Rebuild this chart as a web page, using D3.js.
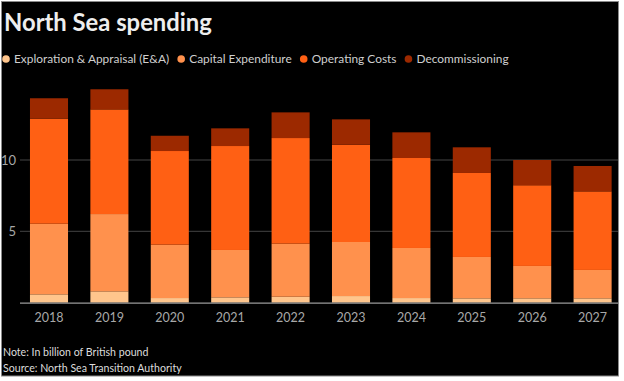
<!DOCTYPE html>
<html>
<head>
<meta charset="utf-8">
<script src="https://cdn.jsdelivr.net/npm/d3@7"></script>
<style>
  html, body { margin: 0; padding: 0; background: #fff; }
  svg { display: block; }
  text { font-family: Lato, "Noto Sans", sans-serif; }
</style>
</head>
<body>
<svg id="chart" width="624" height="381"></svg>
<script>
const years = ["2018","2019","2020","2021","2022","2023","2024","2025","2026","2027"];
const exploration = [0.58,0.79,0.32,0.37,0.41,0.46,0.32,0.30,0.30,0.30];
const capex       = [4.95,5.42,3.74,3.32,3.72,3.79,3.51,2.90,2.27,1.99];
const opex        = [7.37,7.34,6.57,7.29,7.41,6.82,6.31,5.89,5.66,5.51];
const decom       = [1.43,1.41,1.07,1.24,1.80,1.78,1.80,1.80,1.77,1.78];
const seriesNames = ["Exploration & Appraisal (E&A)","Capital Expenditure","Operating Costs","Decommissioning"];
const seriesColors = ["#ffc58c","#ff914d","#ff6014","#9c2900"];
const yTicks = [5,10];

const svg = d3.select("#chart");
svg.append("rect").attr("x",1.5).attr("y",1.5).attr("width",617).attr("height",374.5)
  .attr("fill","#000").attr("stroke","#8a8a8a").attr("stroke-width",1);

const x = d3.scaleBand().domain(years).range([18.8,622.8]).paddingInner(0.37).paddingOuter(0.185);
const y = d3.scaleLinear().domain([0,15]).range([302.6,88.7]);

// gridlines
svg.append("g").selectAll("line").data(yTicks).join("line")
  .attr("x1",20).attr("x2",618).attr("y1",d=>y(d)).attr("y2",d=>y(d))
  .attr("stroke","#444").attr("stroke-width",1);
svg.append("g").selectAll("text").data(yTicks).join("text")
  .attr("x",16).attr("y",d=>y(d)).attr("dy","0.35em").attr("text-anchor","end")
  .attr("fill","#a8a8a8").attr("font-size",13).text(d=>d);

// stacked bars
const table = years.map((yr,i)=>({year:yr, s0:exploration[i], s1:capex[i], s2:opex[i], s3:decom[i]}));
const stack = d3.stack().keys(["s0","s1","s2","s3"])(table);
svg.append("g").selectAll("g").data(stack).join("g")
  .attr("fill",(d,i)=>seriesColors[i])
  .selectAll("rect").data(d=>d).join("rect")
  .attr("x",d=>x(d.data.year)).attr("width",x.bandwidth())
  .attr("y",d=>y(d[1])).attr("height",d=>y(d[0])-y(d[1]));

// baseline
svg.append("line").attr("x1",20).attr("x2",618).attr("y1",y(0)+0.5).attr("y2",y(0)+0.5)
  .attr("stroke","#9a9a9a").attr("stroke-width",1.2);

// x labels
svg.append("g").selectAll("text").data(years).join("text")
  .attr("x",d=>x(d)+x.bandwidth()/2).attr("y",318).attr("dy","0.35em")
  .attr("text-anchor","middle").attr("fill","#a8a8a8").attr("font-size",12.5).text(d=>d);

// title
svg.append("text").attr("x",4).attr("y",31).attr("fill","#eeeeee")
  .attr("font-size",23.8).attr("font-weight",700).text("North Sea spending");

// legend
let lx = 6;
seriesNames.forEach((name,i)=>{
  svg.append("circle").attr("cx",lx).attr("cy",59).attr("r",3.8).attr("fill",seriesColors[i]);
  const t = svg.append("text").attr("x",lx+8).attr("y",59).attr("dy","0.35em")
    .attr("fill","#cfcfcf").attr("font-size",11.9).text(name);
  lx += 8 + t.node().getComputedTextLength() + 12;
});

// notes
svg.append("text").attr("x",3).attr("y",352).attr("dy","0.35em").attr("fill","#dddddd")
  .attr("font-size",10.6).text("Note: In billion of British pound");
svg.append("text").attr("x",3).attr("y",368).attr("dy","0.35em").attr("fill","#dddddd")
  .attr("font-size",10.6).text("Source: North Sea Transition Authority");
</script>
</body>
</html>
